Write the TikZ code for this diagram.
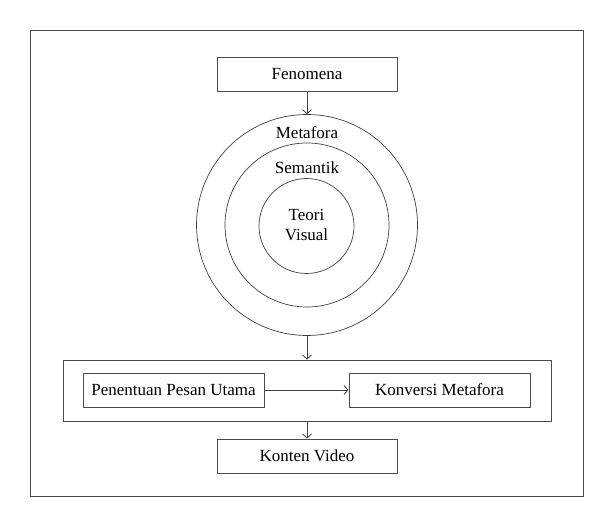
\documentclass[tikz,border=0pt]{standalone}
\usepackage{fontspec}
\setmainfont{Liberation Serif}
\usetikzlibrary{arrows.meta, positioning}

\begin{document}
\begin{tikzpicture}[x=1pt, y=-1pt,
    box/.style={draw=black!70, line width=0.9pt, minimum height=34pt, inner sep=0pt},
    ring/.style={draw=black!75, line width=0.7pt, circle, inner sep=0pt},
    link/.style={draw=black!75, line width=0.8pt, -{Straight Barb[length=4pt, width=9pt]}},
    lbl/.style={font=\fontsize{17}{20}\selectfont}]
  \useasboundingbox (0,0) rectangle (614,513);
  \draw[black!70, line width=1pt] (30,31) rectangle (583,496);
  % top box and the three rings
  \node[box, lbl, minimum width=180pt] (fenomena) at (307,74.5) {Fenomena};
  \node[ring, minimum size=221pt] (metafora) at (307,225) {};
  \node[ring, minimum size=164pt] (semantik) at (307,225) {};
  \node[ring, minimum size=95pt]  (teori)    at (306.5,226) {};
  \node[lbl] (tmetafora) at (307,133) {Metafora};
  \node[lbl] (tsemantik) at (307,168) {Semantik};
  \node[lbl, align=center] (tteori) at (306.5,225) {Teori\\Visual};
  % process box
  \node[box, minimum width=488pt, minimum height=61pt] (proses) at (307,390.5) {};
  \node[box, lbl, minimum width=181pt] (pesan)    at (173.5,390) {Penentuan Pesan Utama};
  \node[box, lbl, minimum width=181pt] (konversi) at (439.5,390) {Konversi Metafora};
  \node[box, lbl, minimum width=180pt] (konten)   at (307,456) {Konten Video};
  % arrows
  \draw[link] (fenomena.south) -- (metafora.north);
  \draw[link] (metafora.south) -- (proses.north);
  \draw[link] (pesan.east) -- (konversi.west);
  \draw[link] (proses.south) -- (konten.north);
\end{tikzpicture}
\end{document}
